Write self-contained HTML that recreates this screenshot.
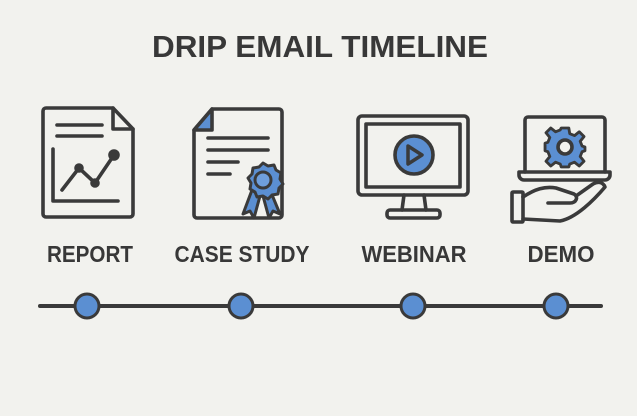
<!DOCTYPE html>
<html><head><meta charset="utf-8"><style>
html,body{margin:0;padding:0;background:#f2f2ee;}
svg{display:block}
text{font-family:"Liberation Sans",sans-serif;font-weight:bold;fill:#383838}
</style></head><body>
<svg width="637" height="416" viewBox="0 0 637 416" xmlns="http://www.w3.org/2000/svg">
<rect width="637" height="416" fill="#f2f2ee"/>
<text x="320" y="57" font-size="31" text-anchor="middle" textLength="336" lengthAdjust="spacingAndGlyphs">DRIP EMAIL TIMELINE</text>
<g stroke="#3a3a3a" stroke-width="3.6" fill="none" stroke-linecap="round" stroke-linejoin="round">
<!-- report -->
<path d="M46,108 H113 L133,129 V214 a3,3 0 0 1 -3,3 H46 a3,3 0 0 1 -3,-3 V111 a3,3 0 0 1 3,-3 Z"/>
<path d="M113,108 V129 H133" />
<path d="M57,125 H102 M57,136 H102"/>
<path d="M53,149 V201 H118"/>
<path d="M62,190 L79,168 L95,183 L114,155"/>
<circle cx="79" cy="168" r="3" fill="#3a3a3a"/><circle cx="95" cy="183" r="3" fill="#3a3a3a"/><circle cx="114" cy="155" r="4" fill="#3a3a3a"/>
<!-- case study -->
<path d="M212,109 H279 a3,3 0 0 1 3,3 V215 a3,3 0 0 1 -3,3 H197 a3,3 0 0 1 -3,-3 V130 Z"/>
<path d="M212,109 V130 H194 Z" fill="#5b8fd2"/>
<path d="M208,138 H268 M208,150 H268 M208,162 H238 M208,174 H230"/>
<path d="M252,190 L243,214 L250,211 L254,218 L260,196 Z M270,190 L280,214 L273,211 L269,218 L263,196 Z" fill="#5b8fd2" stroke-width="3"/>
<path d="M263,163 l5,3 6,-1 2,5 5,3 -1,6 3,5 -4,4 -1,6 -6,1 -4,4 -5,-3 -6,1 -2,-5 -5,-3 1,-6 -3,-5 4,-4 1,-6 6,-1 z" fill="#5b8fd2" stroke-width="3"/>
<circle cx="263" cy="180" r="8" fill="#6f9fdc" stroke-width="3"/>
<!-- webinar -->
<rect x="358" y="116" width="110" height="79" rx="4"/>
<rect x="366" y="124" width="94" height="63"/>
<circle cx="414" cy="155" r="19" fill="#5b8fd2"/>
<path d="M408,146 L422,155 L408,164 Z" stroke-width="3.5"/>
<path d="M404,195 L402,210 M424,195 L426,210"/>
<rect x="387" y="210" width="53" height="8" rx="3"/>
<!-- demo -->
<path d="M525,172 V120 a3,3 0 0 1 3,-3 H602 a3,3 0 0 1 3,3 V172"/>
<path d="M519,172 H610 V175 a5,5 0 0 1 -5,5 H524 a5,5 0 0 1 -5,-5 Z"/>
<g transform="translate(565,147)">
<path fill="#5b8fd2" stroke-width="3" d="M-4,-20 H4 L5,-14 L10,-12 L15,-16 L20,-11 L16,-6 L18,-1 L21,0 V4 L18,5 L16,10 L20,15 L15,20 L10,16 L5,18 L4,21 H-4 L-5,18 L-10,16 L-15,20 L-20,15 L-16,10 L-18,5 L-21,4 V-4 L-18,-5 L-16,-10 L-20,-15 L-15,-20 L-10,-16 L-5,-18 Z" transform="scale(0.95)"/>
<circle r="7" fill="#f2f2ee"/>
</g>
<rect x="512" y="192" width="11" height="30" rx="1"/>
<path d="M523,197 C535,189 545,186 556,188 L574,194 C579,197 576,203 570,203 L548,203"/>
<path d="M523,219 L560,221 C576,218 594,200 605,187 C603,182 598,181 593,184 L576,196"/>
</g>
<text x="90" y="262" font-size="23" text-anchor="middle" textLength="86" lengthAdjust="spacingAndGlyphs">REPORT</text>
<text x="242" y="262" font-size="23" text-anchor="middle" textLength="135" lengthAdjust="spacingAndGlyphs">CASE STUDY</text>
<text x="414" y="262" font-size="23" text-anchor="middle" textLength="105" lengthAdjust="spacingAndGlyphs">WEBINAR</text>
<text x="561" y="262" font-size="23" text-anchor="middle" textLength="67" lengthAdjust="spacingAndGlyphs">DEMO</text>
<line x1="40" y1="306" x2="601" y2="306" stroke="#3a3a3a" stroke-width="4" stroke-linecap="round"/>
<g fill="#5b8fd2" stroke="#3a3a3a" stroke-width="3">
<circle cx="87" cy="306" r="12"/><circle cx="241" cy="306" r="12"/><circle cx="413" cy="306" r="12"/><circle cx="556" cy="306" r="12"/>
</g>
</svg>
</body></html>
